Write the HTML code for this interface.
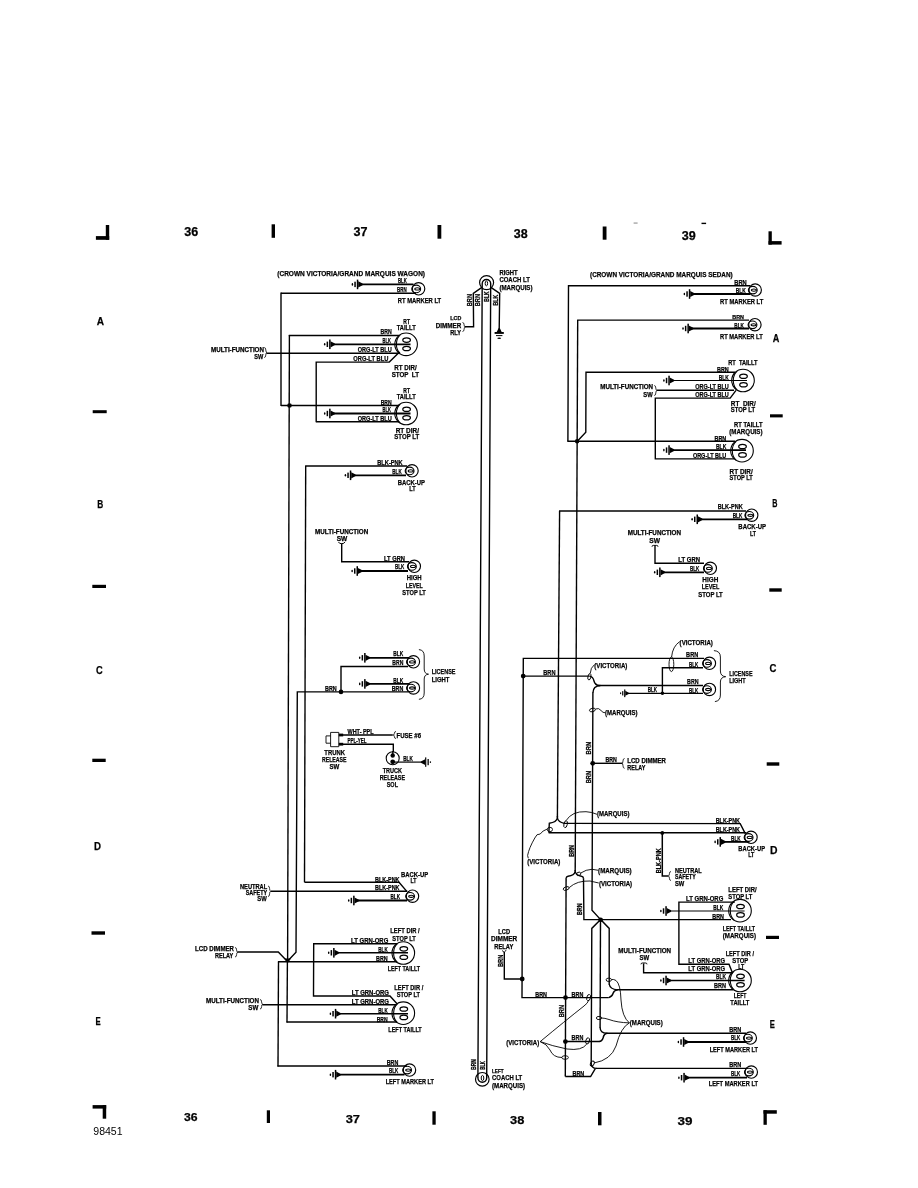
<!DOCTYPE html>
<html><head><meta charset="utf-8"><title>Wiring diagram 98451</title>
<style>
html,body{margin:0;padding:0;background:#fff}
body{width:918px;height:1188px;overflow:hidden}
svg{display:block;will-change:transform;opacity:0.9999}
svg line,svg path,svg circle,svg ellipse{stroke:#000;fill:none;stroke-linecap:butt}
svg .k{fill:#000;stroke:none}
svg text{font-family:"Liberation Sans",sans-serif;fill:#000;stroke:#000;stroke-width:0.25px}
svg .t{font-weight:bold}
svg .n{font-weight:bold}
svg .r{font-weight:normal;stroke:none}
</style></head><body>
<svg width="918" height="1188" viewBox="0 0 918 1188">
<rect x="95.9" y="236.1" width="13.3" height="3.7" class="k"/>
<rect x="105.8" y="225" width="3.4" height="14.8" class="k"/>
<rect x="768.5" y="231.3" width="3.3" height="13.3" class="k"/>
<rect x="768.5" y="241.1" width="13.1" height="3.5" class="k"/>
<rect x="92.6" y="1105.1" width="13.6" height="3.5" class="k"/>
<rect x="102.7" y="1105.1" width="3.5" height="13.6" class="k"/>
<rect x="763.5" y="1110.2" width="3.3" height="14.6" class="k"/>
<rect x="763.5" y="1110.2" width="13.3" height="3.5" class="k"/>
<rect x="271.6" y="224.3" width="3.4" height="13.5" class="k"/>
<rect x="437.5" y="225" width="3.8" height="13.7" class="k"/>
<rect x="602.7" y="226.5" width="3.8" height="13.2" class="k"/>
<rect x="266.8" y="1110.3" width="3.2" height="12.7" class="k"/>
<rect x="432.4" y="1111.3" width="3.3" height="13.4" class="k"/>
<rect x="598" y="1112" width="3.5" height="13.3" class="k"/>
<text lengthAdjust="spacingAndGlyphs" x="184.3" y="236" textLength="14" font-size="12" class="n">36</text>
<text lengthAdjust="spacingAndGlyphs" x="353.6" y="235.7" textLength="14" font-size="12" class="n">37</text>
<text lengthAdjust="spacingAndGlyphs" x="513.7" y="237.7" textLength="13.9" font-size="12" class="n">38</text>
<text lengthAdjust="spacingAndGlyphs" x="681.8" y="239.6" textLength="14" font-size="12" class="n">39</text>
<text lengthAdjust="spacingAndGlyphs" x="184" y="1121.3" textLength="13.6" font-size="11.3" class="n">36</text>
<text lengthAdjust="spacingAndGlyphs" x="345.7" y="1122.7" textLength="14.3" font-size="11.3" class="n">37</text>
<text lengthAdjust="spacingAndGlyphs" x="510" y="1123.7" textLength="14.3" font-size="11.3" class="n">38</text>
<text lengthAdjust="spacingAndGlyphs" x="677.5" y="1125.3" textLength="15" font-size="11.3" class="n">39</text>
<text lengthAdjust="spacingAndGlyphs" x="96.7" y="325.3" textLength="7.3" font-size="11" class="n">A</text>
<text lengthAdjust="spacingAndGlyphs" x="97.3" y="507.8" textLength="6" font-size="11" class="n">B</text>
<text lengthAdjust="spacingAndGlyphs" x="96" y="674" textLength="6.7" font-size="11" class="n">C</text>
<text lengthAdjust="spacingAndGlyphs" x="94" y="850.2" textLength="7" font-size="11" class="n">D</text>
<text lengthAdjust="spacingAndGlyphs" x="95.6" y="1024.9" textLength="5.2" font-size="11" class="n">E</text>
<text lengthAdjust="spacingAndGlyphs" x="772.7" y="341.7" textLength="6.6" font-size="11" class="n">A</text>
<text lengthAdjust="spacingAndGlyphs" x="772.3" y="506.8" textLength="5.2" font-size="11" class="n">B</text>
<text lengthAdjust="spacingAndGlyphs" x="769.6" y="672" textLength="6.9" font-size="11" class="n">C</text>
<text lengthAdjust="spacingAndGlyphs" x="770" y="854.2" textLength="7.5" font-size="11" class="n">D</text>
<text lengthAdjust="spacingAndGlyphs" x="769.7" y="1028.2" textLength="5.1" font-size="11" class="n">E</text>
<rect x="92.7" y="410.2" width="14" height="3" class="k"/>
<rect x="92.3" y="584.8" width="13.7" height="3.2" class="k"/>
<rect x="92.3" y="758.7" width="13.4" height="3.3" class="k"/>
<rect x="91.5" y="931.3" width="13.5" height="3.4" class="k"/>
<rect x="770" y="414.3" width="12.7" height="3.1" class="k"/>
<rect x="769.3" y="588.3" width="12.4" height="3.4" class="k"/>
<rect x="766.7" y="762.3" width="12.6" height="3.4" class="k"/>
<rect x="766" y="935.8" width="13" height="3.2" class="k"/>
<text lengthAdjust="spacingAndGlyphs" x="93.3" y="1135" textLength="29.3" font-size="10.5" class="r">98451</text>
<rect x="633.6" y="222.6" width="4" height="0.9" fill="#777"/>
<rect x="701.5" y="222.7" width="4.6" height="1.4" class="k"/>
<text lengthAdjust="spacingAndGlyphs" x="277.3" y="276.2" textLength="147.7" font-size="7" class="t">(CROWN VICTORIA/GRAND MARQUIS WAGON)</text>
<ellipse cx="352.4" cy="284.4" rx="0.75" ry="1.3" stroke-width="0" class="k"/>
<rect x="354.3" y="281.7" width="1.5" height="5.4" class="k"/>
<rect x="356.8" y="279.6" width="1.5" height="9.6" class="k"/>
<path d="M358.2 281.3 L362.6 283.6 L362.6 285.2 L358.2 287.5 Z" class="k"/>
<line x1="361" y1="284.4" x2="413.5" y2="284.4" stroke-width="1.8"/>
<line x1="281" y1="293.2" x2="416" y2="293.2" stroke-width="1.4"/>
<line x1="281" y1="292.6" x2="281" y2="406.1" stroke-width="1.4"/>
<circle cx="418.6" cy="288.8" r="6.2" stroke-width="1.15"/>
<ellipse cx="416.2" cy="288.9" rx="4.4" ry="3.8" stroke-width="1.15"/>
<ellipse cx="417.3" cy="288.9" rx="2.5" ry="1.1" stroke-width="1.1"/>
<text lengthAdjust="spacingAndGlyphs" x="398" y="283.3" textLength="8.8" font-size="6.8" class="t">BLK</text>
<text lengthAdjust="spacingAndGlyphs" x="397" y="292.1" textLength="9.6" font-size="6.8" class="t">BRN</text>
<text lengthAdjust="spacingAndGlyphs" x="397.7" y="302.6" textLength="43.5" font-size="7" class="t">RT MARKER LT</text>
<text lengthAdjust="spacingAndGlyphs" x="403.3" y="323.5" textLength="6.7" font-size="7" class="t">RT</text>
<text lengthAdjust="spacingAndGlyphs" x="396.7" y="329.6" textLength="19" font-size="7" class="t">TAILLT</text>
<text lengthAdjust="spacingAndGlyphs" x="380.5" y="334.2" textLength="11.2" font-size="6.8" class="t">BRN</text>
<line x1="288.8" y1="335.5" x2="399" y2="335.5" stroke-width="1.4"/>
<text lengthAdjust="spacingAndGlyphs" x="382.5" y="342.8" textLength="8.3" font-size="6.8" class="t">BLK</text>
<ellipse cx="324.7" cy="344.3" rx="0.75" ry="1.3" stroke-width="0" class="k"/>
<rect x="326.6" y="341.6" width="1.5" height="5.4" class="k"/>
<rect x="329.1" y="339.5" width="1.5" height="9.6" class="k"/>
<path d="M330.5 341.2 L334.9 343.5 L334.9 345.1 L330.5 347.4 Z" class="k"/>
<line x1="333.3" y1="344.3" x2="410.5" y2="344.3" stroke-width="1.8"/>
<text lengthAdjust="spacingAndGlyphs" x="357.7" y="351.8" textLength="34" font-size="6.8" class="t">ORG-LT BLU</text>
<line x1="266.5" y1="353.2" x2="399" y2="353.2" stroke-width="1.4"/>
<text lengthAdjust="spacingAndGlyphs" x="211" y="351.7" textLength="53" font-size="6.4" class="t">MULTI-FUNCTION</text>
<text lengthAdjust="spacingAndGlyphs" x="254.3" y="358.5" textLength="9" font-size="6.4" class="t">SW</text>
<path d="M264.2 347.5 Q265.8 347.5 265.8 350 Q265.8 352.5 267 352.5 Q265.8 352.5 265.8 355 Q265.8 357.5 264.2 357.5" stroke-width="0.8"/>
<text lengthAdjust="spacingAndGlyphs" x="353.3" y="360.8" textLength="35" font-size="6.8" class="t">ORG-LT BLU</text>
<path d="M316.2 422.3 L316.2 362.1 L389.3 362.1 L399.5 352" stroke-width="1.4"/>
<circle cx="406.1" cy="344.3" r="11.3" stroke-width="1.1"/>
<path d="M400.3 334.9 C395.1 339.3 395.1 349.3 400.3 353.7" stroke-width="1.1"/>
<ellipse cx="406.6" cy="340.1" rx="3.8" ry="2.2" stroke-width="1.25"/>
<ellipse cx="406.6" cy="348.5" rx="3.8" ry="2.2" stroke-width="1.25"/>
<text lengthAdjust="spacingAndGlyphs" x="394.3" y="370.2" textLength="22.4" font-size="7" class="t">RT DIR/</text>
<text lengthAdjust="spacingAndGlyphs" x="391.7" y="376.9" textLength="27.3" font-size="7" class="t">STOP  LT</text>
<text lengthAdjust="spacingAndGlyphs" x="403.3" y="393.4" textLength="6.7" font-size="7" class="t">RT</text>
<text lengthAdjust="spacingAndGlyphs" x="396.7" y="398.9" textLength="19" font-size="7" class="t">TAILLT</text>
<text lengthAdjust="spacingAndGlyphs" x="380.7" y="404.7" textLength="11" font-size="6.8" class="t">BRN</text>
<line x1="281" y1="405.5" x2="399" y2="405.5" stroke-width="1.4"/>
<circle cx="289.5" cy="405.5" r="2.3" class="k"/>
<text lengthAdjust="spacingAndGlyphs" x="382.5" y="412.4" textLength="8.3" font-size="6.8" class="t">BLK</text>
<ellipse cx="324.7" cy="413.5" rx="0.75" ry="1.3" stroke-width="0" class="k"/>
<rect x="326.6" y="410.8" width="1.5" height="5.4" class="k"/>
<rect x="329.1" y="408.7" width="1.5" height="9.6" class="k"/>
<path d="M330.5 410.4 L334.9 412.7 L334.9 414.3 L330.5 416.6 Z" class="k"/>
<line x1="333.3" y1="413.5" x2="410.5" y2="413.5" stroke-width="1.8"/>
<text lengthAdjust="spacingAndGlyphs" x="357.7" y="421" textLength="34" font-size="6.8" class="t">ORG-LT BLU</text>
<line x1="316.2" y1="421.7" x2="399" y2="421.7" stroke-width="1.4"/>
<circle cx="406.1" cy="413.5" r="11.3" stroke-width="1.1"/>
<path d="M400.3 404.1 C395.1 408.5 395.1 418.5 400.3 422.9" stroke-width="1.1"/>
<ellipse cx="406.6" cy="409.3" rx="3.8" ry="2.2" stroke-width="1.25"/>
<ellipse cx="406.6" cy="417.7" rx="3.8" ry="2.2" stroke-width="1.25"/>
<text lengthAdjust="spacingAndGlyphs" x="395.7" y="432.5" textLength="23.3" font-size="7" class="t">RT DIR/</text>
<text lengthAdjust="spacingAndGlyphs" x="394.3" y="439.2" textLength="25" font-size="7" class="t">STOP LT</text>
<line x1="289.4" y1="334.9" x2="287.6" y2="961" stroke-width="1.4"/>
<text lengthAdjust="spacingAndGlyphs" x="377.3" y="464.5" textLength="25.4" font-size="6.8" class="t">BLK-PNK</text>
<line x1="305.1" y1="466" x2="407" y2="466" stroke-width="1.4"/>
<line x1="305.7" y1="466" x2="304.5" y2="882.3" stroke-width="1.4"/>
<text lengthAdjust="spacingAndGlyphs" x="392.3" y="473.6" textLength="9.4" font-size="6.8" class="t">BLK</text>
<ellipse cx="345.4" cy="475.3" rx="0.75" ry="1.3" stroke-width="0" class="k"/>
<rect x="347.3" y="472.6" width="1.5" height="5.4" class="k"/>
<rect x="349.8" y="470.5" width="1.5" height="9.6" class="k"/>
<path d="M351.2 472.2 L355.6 474.5 L355.6 476.1 L351.2 478.4 Z" class="k"/>
<line x1="354" y1="475.3" x2="406" y2="475.3" stroke-width="1.8"/>
<circle cx="412" cy="470.8" r="6.2" stroke-width="1.15"/>
<ellipse cx="409.6" cy="470.9" rx="4.4" ry="3.8" stroke-width="1.15"/>
<ellipse cx="410.7" cy="470.9" rx="2.5" ry="1.1" stroke-width="1.1"/>
<text lengthAdjust="spacingAndGlyphs" x="397.7" y="484.6" textLength="27.3" font-size="7" class="t">BACK-UP</text>
<text lengthAdjust="spacingAndGlyphs" x="409.3" y="490.8" textLength="6.4" font-size="7" class="t">LT</text>
<text lengthAdjust="spacingAndGlyphs" x="315" y="534.2" textLength="53.3" font-size="6.4" class="t">MULTI-FUNCTION</text>
<text lengthAdjust="spacingAndGlyphs" x="336.7" y="540.9" textLength="10.6" font-size="6.4" class="t">SW</text>
<path d="M338.5 542 Q339.1 543.7 341.7 543.7 Q344.3 543.7 344.9 542" stroke-width="1"/>
<path d="M341.7 543.6 L341.7 561.7 L409 561.7" stroke-width="1.4"/>
<text lengthAdjust="spacingAndGlyphs" x="384" y="560.8" textLength="21" font-size="6.8" class="t">LT GRN</text>
<text lengthAdjust="spacingAndGlyphs" x="395" y="569.4" textLength="9.3" font-size="6.8" class="t">BLK</text>
<ellipse cx="352.1" cy="571" rx="0.75" ry="1.3" stroke-width="0" class="k"/>
<rect x="354" y="568.3" width="1.5" height="5.4" class="k"/>
<rect x="356.5" y="566.2" width="1.5" height="9.6" class="k"/>
<path d="M357.9 567.9 L362.3 570.2 L362.3 571.8 L357.9 574.1 Z" class="k"/>
<line x1="360.7" y1="571" x2="408" y2="571" stroke-width="1.8"/>
<circle cx="414.3" cy="566.3" r="6.2" stroke-width="1.15"/>
<ellipse cx="411.9" cy="566.4" rx="4.4" ry="3.8" stroke-width="1.15"/>
<ellipse cx="413" cy="566.4" rx="2.5" ry="1.1" stroke-width="1.1"/>
<text lengthAdjust="spacingAndGlyphs" x="406.7" y="580.2" textLength="15" font-size="7" class="t">HIGH</text>
<text lengthAdjust="spacingAndGlyphs" x="405.7" y="587.5" textLength="17" font-size="7" class="t">LEVEL</text>
<text lengthAdjust="spacingAndGlyphs" x="402.3" y="594.8" textLength="23.4" font-size="7" class="t">STOP LT</text>
<circle cx="413.4" cy="661.8" r="6.2" stroke-width="1.15"/>
<ellipse cx="411" cy="661.9" rx="4.4" ry="3.8" stroke-width="1.15"/>
<ellipse cx="412.1" cy="661.9" rx="2.5" ry="1.1" stroke-width="1.1"/>
<circle cx="413.4" cy="687.9" r="6.2" stroke-width="1.15"/>
<ellipse cx="411" cy="688" rx="4.4" ry="3.8" stroke-width="1.15"/>
<ellipse cx="412.1" cy="688" rx="2.5" ry="1.1" stroke-width="1.1"/>
<ellipse cx="359.7" cy="657.8" rx="0.75" ry="1.3" stroke-width="0" class="k"/>
<rect x="361.6" y="655.1" width="1.5" height="5.4" class="k"/>
<rect x="364.1" y="653" width="1.5" height="9.6" class="k"/>
<path d="M365.5 654.7 L369.9 657 L369.9 658.6 L365.5 660.9 Z" class="k"/>
<line x1="368.3" y1="657.8" x2="409" y2="657.8" stroke-width="1.8"/>
<text lengthAdjust="spacingAndGlyphs" x="393.3" y="656.2" textLength="10" font-size="6.8" class="t">BLK</text>
<text lengthAdjust="spacingAndGlyphs" x="392.3" y="665.2" textLength="11" font-size="6.8" class="t">BRN</text>
<path d="M408 666.5 L341 666.5 L341 691.9" stroke-width="1.4"/>
<circle cx="341" cy="691.9" r="2.3" class="k"/>
<ellipse cx="359.7" cy="683.9" rx="0.75" ry="1.3" stroke-width="0" class="k"/>
<rect x="361.6" y="681.2" width="1.5" height="5.4" class="k"/>
<rect x="364.1" y="679.1" width="1.5" height="9.6" class="k"/>
<path d="M365.5 680.8 L369.9 683.1 L369.9 684.7 L365.5 687 Z" class="k"/>
<line x1="368.3" y1="683.9" x2="409" y2="683.9" stroke-width="1.8"/>
<text lengthAdjust="spacingAndGlyphs" x="393.3" y="683.2" textLength="10" font-size="6.8" class="t">BLK</text>
<text lengthAdjust="spacingAndGlyphs" x="391.7" y="691.3" textLength="11.6" font-size="6.8" class="t">BRN</text>
<text lengthAdjust="spacingAndGlyphs" x="325" y="691" textLength="11.7" font-size="6.8" class="t">BRN</text>
<path d="M408 691.9 L297.3 691.9 L296 952.3 L288.2 960.5" stroke-width="1.4"/>
<path d="M418.9 649.6 Q424.2 650 424.2 656 L424.2 669 Q424.2 673.8 428.5 674.2 Q424.2 674.6 424.2 679 L424.2 693 Q424.2 699 418.9 699.3" stroke-width="0.9"/>
<text lengthAdjust="spacingAndGlyphs" x="431.7" y="674.1" textLength="23.8" font-size="7" class="t">LICENSE</text>
<text lengthAdjust="spacingAndGlyphs" x="431.7" y="681.6" textLength="17.7" font-size="7" class="t">LIGHT</text>
<path d="M330.6 735.9 L326 735.9 L326 743.2 L330.6 743.2" stroke-width="0.9"/>
<path d="M330.6 732.4 L338.8 732.4 L338.8 746.7 L330.6 746.7 Z" stroke-width="0.9"/>
<rect x="338.8" y="733.6" width="4.4" height="2.8" class="k"/>
<rect x="338.8" y="742.8" width="4.4" height="2.8" class="k"/>
<line x1="343" y1="735" x2="392.8" y2="735" stroke-width="1.4"/>
<path d="M396 731.5 Q394.4 731.5 394.4 733.25 Q394.4 735 393.2 735 Q394.4 735 394.4 736.75 Q394.4 738.5 396 738.5" stroke-width="0.8"/>
<text lengthAdjust="spacingAndGlyphs" x="396.6" y="738.2" textLength="24.4" font-size="7" class="t">FUSE #6</text>
<path d="M343 744.2 L393.3 744.2 L393.3 752" stroke-width="1.4"/>
<circle cx="392.7" cy="758.3" r="6.5" stroke-width="1.1"/>
<circle cx="392.7" cy="755.5" r="2.2" class="k"/>
<circle cx="392.7" cy="761.8" r="2.4" class="k"/>
<line x1="392.8" y1="751" x2="392.8" y2="756" stroke-width="1.4"/>
<line x1="392.8" y1="762.1" x2="421.5" y2="762.1" stroke-width="1.2"/>
<path d="M420.8 761.5 L425.2 759.2 L425.2 765 L420.8 762.7 Z" class="k"/>
<rect x="425.1" y="757.4" width="1.2" height="9.4" class="k"/>
<rect x="427.5" y="759" width="1.3" height="6.2" class="k"/>
<ellipse cx="430.4" cy="762.1" rx="0.7" ry="0.9" stroke-width="0" class="k"/>
<text lengthAdjust="spacingAndGlyphs" x="403.2" y="760.8" textLength="9.6" font-size="6.8" class="t">BLK</text>
<text lengthAdjust="spacingAndGlyphs" x="347.5" y="733.9" textLength="26.1" font-size="6.8" class="t">WHT- PPL</text>
<text lengthAdjust="spacingAndGlyphs" x="347.5" y="742.9" textLength="19.1" font-size="6.8" class="t">PPL-YEL</text>
<text lengthAdjust="spacingAndGlyphs" x="324.3" y="754.8" textLength="20.6" font-size="7" class="t">TRUNK</text>
<text lengthAdjust="spacingAndGlyphs" x="321.9" y="762.1" textLength="24.7" font-size="7" class="t">RELEASE</text>
<text lengthAdjust="spacingAndGlyphs" x="329.5" y="769.4" textLength="9.8" font-size="6.4" class="t">SW</text>
<text lengthAdjust="spacingAndGlyphs" x="382.7" y="772.6" textLength="19.3" font-size="7" class="t">TRUCK</text>
<text lengthAdjust="spacingAndGlyphs" x="379.7" y="779.9" textLength="25.3" font-size="7" class="t">RELEASE</text>
<text lengthAdjust="spacingAndGlyphs" x="386.7" y="787.4" textLength="11.3" font-size="7" class="t">SOL</text>
<text lengthAdjust="spacingAndGlyphs" x="401" y="877.3" textLength="27.3" font-size="7" class="t">BACK-UP</text>
<text lengthAdjust="spacingAndGlyphs" x="410.5" y="883.4" textLength="6" font-size="7" class="t">LT</text>
<text lengthAdjust="spacingAndGlyphs" x="375" y="881.6" textLength="24.5" font-size="6.8" class="t">BLK-PNK</text>
<path d="M304.5 882.3 L399 882.3 L406.8 891.4" stroke-width="1.4"/>
<text lengthAdjust="spacingAndGlyphs" x="375" y="889.8" textLength="24.5" font-size="6.8" class="t">BLK-PNK</text>
<line x1="271" y1="891.2" x2="407.3" y2="891.2" stroke-width="1.4"/>
<text lengthAdjust="spacingAndGlyphs" x="240" y="888.8" textLength="27.2" font-size="6.4" class="t">NEUTRAL</text>
<text lengthAdjust="spacingAndGlyphs" x="245.7" y="894.9" textLength="21.5" font-size="6.4" class="t">SAFETY</text>
<text lengthAdjust="spacingAndGlyphs" x="257.3" y="901.2" textLength="9.4" font-size="6.4" class="t">SW</text>
<path d="M268 886 Q269.6 886 269.6 888.62 Q269.6 891.25 270.8 891.25 Q269.6 891.25 269.6 893.88 Q269.6 896.5 268 896.5" stroke-width="0.8"/>
<text lengthAdjust="spacingAndGlyphs" x="390.5" y="898.6" textLength="9.5" font-size="6.8" class="t">BLK</text>
<ellipse cx="348.7" cy="900.5" rx="0.75" ry="1.3" stroke-width="0" class="k"/>
<rect x="350.6" y="897.8" width="1.5" height="5.4" class="k"/>
<rect x="353.1" y="895.7" width="1.5" height="9.6" class="k"/>
<path d="M354.5 897.4 L358.9 899.7 L358.9 901.3 L354.5 903.6 Z" class="k"/>
<line x1="357.3" y1="900.5" x2="407" y2="900.5" stroke-width="1.8"/>
<circle cx="412.5" cy="896.2" r="6.2" stroke-width="1.15"/>
<ellipse cx="410.1" cy="896.3" rx="4.4" ry="3.8" stroke-width="1.15"/>
<ellipse cx="411.2" cy="896.3" rx="2.5" ry="1.1" stroke-width="1.1"/>
<text lengthAdjust="spacingAndGlyphs" x="390.3" y="933.2" textLength="29.4" font-size="7" class="t">LEFT DIR /</text>
<text lengthAdjust="spacingAndGlyphs" x="392.3" y="940.5" textLength="23.4" font-size="7" class="t">STOP LT</text>
<text lengthAdjust="spacingAndGlyphs" x="351" y="943.2" textLength="37.3" font-size="6.8" class="t">LT GRN-ORG</text>
<path d="M397 943.8 L313.7 943.8 L313.5 996 L390 996 L397 1003.7" stroke-width="1.4"/>
<text lengthAdjust="spacingAndGlyphs" x="378.3" y="951.8" textLength="9.4" font-size="6.8" class="t">BLK</text>
<ellipse cx="328.7" cy="952.8" rx="0.75" ry="1.3" stroke-width="0" class="k"/>
<rect x="330.6" y="950.1" width="1.5" height="5.4" class="k"/>
<rect x="333.1" y="948" width="1.5" height="9.6" class="k"/>
<path d="M334.5 949.7 L338.9 952 L338.9 953.6 L334.5 955.9 Z" class="k"/>
<line x1="337.3" y1="952.8" x2="408" y2="952.8" stroke-width="1.4"/>
<text lengthAdjust="spacingAndGlyphs" x="376" y="961" textLength="11.7" font-size="6.8" class="t">BRN</text>
<line x1="277.9" y1="961.8" x2="397" y2="961.8" stroke-width="1.4"/>
<circle cx="403.3" cy="953" r="11.3" stroke-width="1.1"/>
<path d="M397.5 943.6 C392.3 948 392.3 958 397.5 962.4" stroke-width="1.1"/>
<ellipse cx="403.8" cy="948.8" rx="3.8" ry="2.2" stroke-width="1.25"/>
<ellipse cx="403.8" cy="957.2" rx="3.8" ry="2.2" stroke-width="1.25"/>
<text lengthAdjust="spacingAndGlyphs" x="387.7" y="971.3" textLength="32.3" font-size="7" class="t">LEFT TAILLT</text>
<text lengthAdjust="spacingAndGlyphs" x="195" y="950.6" textLength="39" font-size="6.4" class="t">LCD DIMMER</text>
<text lengthAdjust="spacingAndGlyphs" x="215" y="957.9" textLength="18.3" font-size="6.4" class="t">RELAY</text>
<path d="M235 947.5 Q236.6 947.5 236.6 949.88 Q236.6 952.25 237.8 952.25 Q236.6 952.25 236.6 954.62 Q236.6 957 235 957" stroke-width="0.8"/>
<path d="M237.5 952 L278.3 952 L286.5 960.6" stroke-width="1.4"/>
<path d="M284.3 958.6 L287.6 963.2 L291 958.6 Z" class="k"/>
<line x1="278.5" y1="961.8" x2="278" y2="1066.6" stroke-width="1.4"/>
<line x1="287.4" y1="961" x2="287" y2="1022.6" stroke-width="1.4"/>
<text lengthAdjust="spacingAndGlyphs" x="394.3" y="990.2" textLength="29" font-size="7" class="t">LEFT DIR /</text>
<text lengthAdjust="spacingAndGlyphs" x="396.7" y="997" textLength="23.3" font-size="7" class="t">STOP LT</text>
<text lengthAdjust="spacingAndGlyphs" x="351.7" y="995.1" textLength="37.3" font-size="6.8" class="t">LT GRN-ORG</text>
<text lengthAdjust="spacingAndGlyphs" x="351.7" y="1004.1" textLength="37.3" font-size="6.8" class="t">LT GRN-ORG</text>
<line x1="262.5" y1="1004.7" x2="396" y2="1004.7" stroke-width="1.4"/>
<text lengthAdjust="spacingAndGlyphs" x="206" y="1003.3" textLength="53" font-size="6.4" class="t">MULTI-FUNCTION</text>
<text lengthAdjust="spacingAndGlyphs" x="248.3" y="1010.3" textLength="10" font-size="6.4" class="t">SW</text>
<path d="M260 999.5 Q261.6 999.5 261.6 1001.88 Q261.6 1004.25 262.8 1004.25 Q261.6 1004.25 261.6 1006.62 Q261.6 1009 260 1009" stroke-width="0.8"/>
<text lengthAdjust="spacingAndGlyphs" x="378.3" y="1013.1" textLength="9.4" font-size="6.8" class="t">BLK</text>
<ellipse cx="330.4" cy="1013.7" rx="0.75" ry="1.3" stroke-width="0" class="k"/>
<rect x="332.3" y="1011" width="1.5" height="5.4" class="k"/>
<rect x="334.8" y="1008.9" width="1.5" height="9.6" class="k"/>
<path d="M336.2 1010.6 L340.6 1012.9 L340.6 1014.5 L336.2 1016.8 Z" class="k"/>
<line x1="339" y1="1013.7" x2="408" y2="1013.7" stroke-width="1.4"/>
<text lengthAdjust="spacingAndGlyphs" x="376.7" y="1021.5" textLength="11" font-size="6.8" class="t">BRN</text>
<line x1="286.5" y1="1022" x2="397" y2="1022" stroke-width="1.4"/>
<circle cx="403.3" cy="1013.2" r="11.3" stroke-width="1.1"/>
<path d="M397.5 1003.8 C392.3 1008.2 392.3 1018.2 397.5 1022.6" stroke-width="1.1"/>
<ellipse cx="403.8" cy="1009" rx="3.8" ry="2.2" stroke-width="1.25"/>
<ellipse cx="403.8" cy="1017.4" rx="3.8" ry="2.2" stroke-width="1.25"/>
<text lengthAdjust="spacingAndGlyphs" x="388.3" y="1032.4" textLength="33.4" font-size="7" class="t">LEFT TAILLT</text>
<text lengthAdjust="spacingAndGlyphs" x="386.7" y="1065.4" textLength="11.6" font-size="6.8" class="t">BRN</text>
<line x1="277.4" y1="1066" x2="407" y2="1066" stroke-width="1.4"/>
<circle cx="409.5" cy="1070" r="6.2" stroke-width="1.15"/>
<ellipse cx="407.1" cy="1070.1" rx="4.4" ry="3.8" stroke-width="1.15"/>
<ellipse cx="408.2" cy="1070.1" rx="2.5" ry="1.1" stroke-width="1.1"/>
<text lengthAdjust="spacingAndGlyphs" x="389" y="1073.3" textLength="9.3" font-size="6.8" class="t">BLK</text>
<ellipse cx="330.4" cy="1074.7" rx="0.75" ry="1.3" stroke-width="0" class="k"/>
<rect x="332.3" y="1072" width="1.5" height="5.4" class="k"/>
<rect x="334.8" y="1069.9" width="1.5" height="9.6" class="k"/>
<path d="M336.2 1071.6 L340.6 1073.9 L340.6 1075.5 L336.2 1077.8 Z" class="k"/>
<line x1="339" y1="1074.7" x2="404.5" y2="1074.7" stroke-width="1.8"/>
<text lengthAdjust="spacingAndGlyphs" x="385.7" y="1084.4" textLength="48.3" font-size="7" class="t">LEFT MARKER LT</text>
<circle cx="486.6" cy="282.6" r="7" stroke-width="1.2"/>
<ellipse cx="486.4" cy="283.4" rx="1.2" ry="2.4" stroke-width="1"/>
<path d="M477.9 1078 L482.2 283.8 A4.25 4.25 0 0 1 490.7 283.8 L486.7 1078" stroke-width="1.4"/>
<path d="M477.9 1077.8 A4.4 4.4 0 0 0 486.7 1077.8" stroke-width="1.4"/>
<path d="M481.9 287.4 L473.3 293.4 L473.6 326.8 L465 326.8" stroke-width="1.4"/>
<path d="M462.5 322.5 Q464.1 322.5 464.1 324.75 Q464.1 327 465.3 327 Q464.1 327 464.1 329.25 Q464.1 331.5 462.5 331.5" stroke-width="0.8"/>
<path d="M490.9 287.4 L499.7 293.4 L499.2 329" stroke-width="1.4"/>
<path d="M498.5 328.3 L496.6 332.2 L501.8 332.2 L499.9 328.3 Z" class="k"/>
<rect x="494.6" y="332" width="9.2" height="1.9" class="k"/>
<rect x="496" y="335.1" width="6.4" height="1" class="k"/>
<ellipse cx="499.2" cy="338.3" rx="1.9" ry="0.7" stroke-width="0" class="k"/>
<text lengthAdjust="spacingAndGlyphs" x="0" y="0" textLength="12.2" font-size="6.8" class="t" transform="translate(472 306.2) rotate(-90)">BRN</text>
<text lengthAdjust="spacingAndGlyphs" x="0" y="0" textLength="12.2" font-size="6.8" class="t" transform="translate(480.4 306.2) rotate(-90)">BRN</text>
<text lengthAdjust="spacingAndGlyphs" x="0" y="0" textLength="10.2" font-size="6.8" class="t" transform="translate(488.8 301.7) rotate(-90)">BLK</text>
<text lengthAdjust="spacingAndGlyphs" x="0" y="0" textLength="10.7" font-size="6.8" class="t" transform="translate(498 305.5) rotate(-90)">BLK</text>
<text lengthAdjust="spacingAndGlyphs" x="499.4" y="275" textLength="18.3" font-size="7" class="t">RIGHT</text>
<text lengthAdjust="spacingAndGlyphs" x="499.4" y="282.3" textLength="30.5" font-size="7" class="t">COACH LT</text>
<text lengthAdjust="spacingAndGlyphs" x="499.4" y="289.6" textLength="33.1" font-size="7" class="t">(MARQUIS)</text>
<text lengthAdjust="spacingAndGlyphs" x="450.3" y="320.2" textLength="11" font-size="5.4" class="t">LCD</text>
<text lengthAdjust="spacingAndGlyphs" x="435.8" y="327.7" textLength="25.5" font-size="6.4" class="t">DIMMER</text>
<text lengthAdjust="spacingAndGlyphs" x="450.3" y="335" textLength="10.7" font-size="6.4" class="t">RLY</text>
<circle cx="482.3" cy="1079.3" r="6.8" stroke-width="1.2"/>
<ellipse cx="482.5" cy="1078" rx="1.3" ry="2.6" stroke-width="1"/>
<text lengthAdjust="spacingAndGlyphs" x="0" y="0" textLength="10.6" font-size="6.8" class="t" transform="translate(476.2 1069.8) rotate(-90)">BRN</text>
<text lengthAdjust="spacingAndGlyphs" x="0" y="0" textLength="8.7" font-size="6.8" class="t" transform="translate(485.2 1069.8) rotate(-90)">BLK</text>
<text lengthAdjust="spacingAndGlyphs" x="492" y="1072.7" textLength="11.5" font-size="5.6" class="t">LEFT</text>
<text lengthAdjust="spacingAndGlyphs" x="492" y="1080.3" textLength="30.2" font-size="7" class="t">COACH LT</text>
<text lengthAdjust="spacingAndGlyphs" x="492" y="1087.7" textLength="33.1" font-size="7" class="t">(MARQUIS)</text>
<text lengthAdjust="spacingAndGlyphs" x="590" y="276.5" textLength="142.7" font-size="7" class="t">(CROWN VICTORIA/GRAND MARQUIS SEDAN)</text>
<path d="M750 285.7 L568.5 285.7 L567.9 441.2" stroke-width="1.4"/>
<text lengthAdjust="spacingAndGlyphs" x="734.3" y="284.7" textLength="12.4" font-size="6.8" class="t">BRN</text>
<circle cx="755.2" cy="290" r="6.2" stroke-width="1.15"/>
<ellipse cx="752.8" cy="290.1" rx="4.4" ry="3.8" stroke-width="1.15"/>
<ellipse cx="753.9" cy="290.1" rx="2.5" ry="1.1" stroke-width="1.1"/>
<text lengthAdjust="spacingAndGlyphs" x="735.7" y="292.8" textLength="10" font-size="6.8" class="t">BLK</text>
<ellipse cx="684.4" cy="294" rx="0.75" ry="1.3" stroke-width="0" class="k"/>
<rect x="686.3" y="291.3" width="1.5" height="5.4" class="k"/>
<rect x="688.8" y="289.2" width="1.5" height="9.6" class="k"/>
<path d="M690.2 290.9 L694.6 293.2 L694.6 294.8 L690.2 297.1 Z" class="k"/>
<line x1="693" y1="294" x2="750" y2="294" stroke-width="1.8"/>
<text lengthAdjust="spacingAndGlyphs" x="720" y="304" textLength="43.3" font-size="7" class="t">RT MARKER LT</text>
<line x1="577.1" y1="320.1" x2="749" y2="320.1" stroke-width="1.4"/>
<text lengthAdjust="spacingAndGlyphs" x="732.3" y="318.6" textLength="11.7" font-size="6.2" class="t">BRN</text>
<circle cx="754.9" cy="324.7" r="6.2" stroke-width="1.15"/>
<ellipse cx="752.5" cy="324.8" rx="4.4" ry="3.8" stroke-width="1.15"/>
<ellipse cx="753.6" cy="324.8" rx="2.5" ry="1.1" stroke-width="1.1"/>
<text lengthAdjust="spacingAndGlyphs" x="734.3" y="327.7" textLength="9.7" font-size="6.8" class="t">BLK</text>
<ellipse cx="683" cy="328.5" rx="0.75" ry="1.3" stroke-width="0" class="k"/>
<rect x="684.9" y="325.8" width="1.5" height="5.4" class="k"/>
<rect x="687.4" y="323.7" width="1.5" height="9.6" class="k"/>
<path d="M688.8 325.4 L693.2 327.7 L693.2 329.3 L688.8 331.6 Z" class="k"/>
<line x1="691.6" y1="328.5" x2="749" y2="328.5" stroke-width="1.8"/>
<text lengthAdjust="spacingAndGlyphs" x="720" y="338.7" textLength="42.7" font-size="7" class="t">RT MARKER LT</text>
<line x1="577.7" y1="320.1" x2="575.2" y2="871.5" stroke-width="1.4"/>
<text lengthAdjust="spacingAndGlyphs" x="728.2" y="365" textLength="29.4" font-size="7" class="t">RT  TAILLT</text>
<path d="M735 372.3 L586 372.3 L585.8 432.2 L577.3 441.2" stroke-width="1.4"/>
<text lengthAdjust="spacingAndGlyphs" x="717" y="371.6" textLength="11.8" font-size="6.8" class="t">BRN</text>
<text lengthAdjust="spacingAndGlyphs" x="718.8" y="379.8" textLength="10" font-size="6.8" class="t">BLK</text>
<ellipse cx="663.9" cy="380.5" rx="0.75" ry="1.3" stroke-width="0" class="k"/>
<rect x="665.8" y="377.8" width="1.5" height="5.4" class="k"/>
<rect x="668.3" y="375.7" width="1.5" height="9.6" class="k"/>
<path d="M669.7 377.4 L674.1 379.7 L674.1 381.3 L669.7 383.6 Z" class="k"/>
<line x1="672.5" y1="380.5" x2="747" y2="380.5" stroke-width="1.2"/>
<text lengthAdjust="spacingAndGlyphs" x="695.3" y="389.2" textLength="33.5" font-size="6.8" class="t">ORG-LT BLU</text>
<line x1="657" y1="390.3" x2="734" y2="390.3" stroke-width="1.4"/>
<text lengthAdjust="spacingAndGlyphs" x="600.2" y="389.3" textLength="52.9" font-size="6.4" class="t">MULTI-FUNCTION</text>
<text lengthAdjust="spacingAndGlyphs" x="643.3" y="396.6" textLength="9.4" font-size="6.4" class="t">SW</text>
<path d="M654.2 385.5 Q655.8 385.5 655.8 388 Q655.8 390.5 657 390.5 Q655.8 390.5 655.8 393 Q655.8 395.5 654.2 395.5" stroke-width="0.8"/>
<text lengthAdjust="spacingAndGlyphs" x="695.3" y="397.4" textLength="33.5" font-size="6.8" class="t">ORG-LT BLU</text>
<path d="M734 458.9 L655.3 458.9 L655.3 398.1 L730.2 398.1 L736 390.3" stroke-width="1.4"/>
<circle cx="743" cy="380.5" r="11.3" stroke-width="1.1"/>
<path d="M737.2 371.1 C732 375.5 732 385.5 737.2 389.9" stroke-width="1.1"/>
<ellipse cx="743.5" cy="376.3" rx="3.8" ry="2.2" stroke-width="1.25"/>
<ellipse cx="743.5" cy="384.7" rx="3.8" ry="2.2" stroke-width="1.25"/>
<text lengthAdjust="spacingAndGlyphs" x="730.8" y="406" textLength="24.9" font-size="7" class="t">RT  DIR/</text>
<text lengthAdjust="spacingAndGlyphs" x="730.8" y="412.3" textLength="24.3" font-size="7" class="t">STOP LT</text>
<text lengthAdjust="spacingAndGlyphs" x="734.1" y="426.8" textLength="28.4" font-size="7" class="t">RT TAILLT</text>
<text lengthAdjust="spacingAndGlyphs" x="729.2" y="433.7" textLength="33.3" font-size="7" class="t">(MARQUIS)</text>
<text lengthAdjust="spacingAndGlyphs" x="714.5" y="440.7" textLength="11.8" font-size="6.8" class="t">BRN</text>
<line x1="567.3" y1="441.2" x2="735" y2="441.2" stroke-width="1.4"/>
<circle cx="577.1" cy="441.3" r="2.2" class="k"/>
<text lengthAdjust="spacingAndGlyphs" x="715.9" y="449" textLength="10.4" font-size="6.8" class="t">BLK</text>
<ellipse cx="663.9" cy="450.1" rx="0.75" ry="1.3" stroke-width="0" class="k"/>
<rect x="665.8" y="447.4" width="1.5" height="5.4" class="k"/>
<rect x="668.3" y="445.3" width="1.5" height="9.6" class="k"/>
<path d="M669.7 447 L674.1 449.3 L674.1 450.9 L669.7 453.2 Z" class="k"/>
<line x1="672.5" y1="450.1" x2="746" y2="450.1" stroke-width="1.6"/>
<text lengthAdjust="spacingAndGlyphs" x="692.9" y="458.4" textLength="33.4" font-size="6.8" class="t">ORG-LT BLU</text>
<circle cx="742" cy="450.7" r="11.3" stroke-width="1.1"/>
<path d="M736.2 441.3 C731 445.7 731 455.7 736.2 460.1" stroke-width="1.1"/>
<ellipse cx="742.5" cy="446.5" rx="3.8" ry="2.2" stroke-width="1.25"/>
<ellipse cx="742.5" cy="454.9" rx="3.8" ry="2.2" stroke-width="1.25"/>
<text lengthAdjust="spacingAndGlyphs" x="729.6" y="473.5" textLength="23.1" font-size="7" class="t">RT DIR/</text>
<text lengthAdjust="spacingAndGlyphs" x="729.6" y="480.3" textLength="23.1" font-size="7" class="t">STOP LT</text>
<text lengthAdjust="spacingAndGlyphs" x="717.7" y="509.3" textLength="25" font-size="6.8" class="t">BLK-PNK</text>
<line x1="559" y1="511" x2="746" y2="511" stroke-width="1.4"/>
<line x1="559.6" y1="511" x2="557.4" y2="817.8" stroke-width="1.4"/>
<circle cx="751.7" cy="515.2" r="6.2" stroke-width="1.15"/>
<ellipse cx="749.3" cy="515.3" rx="4.4" ry="3.8" stroke-width="1.15"/>
<ellipse cx="750.4" cy="515.3" rx="2.5" ry="1.1" stroke-width="1.1"/>
<text lengthAdjust="spacingAndGlyphs" x="732.7" y="517.7" textLength="9.6" font-size="6.8" class="t">BLK</text>
<ellipse cx="692.1" cy="519.3" rx="0.75" ry="1.3" stroke-width="0" class="k"/>
<rect x="694" y="516.6" width="1.5" height="5.4" class="k"/>
<rect x="696.5" y="514.5" width="1.5" height="9.6" class="k"/>
<path d="M697.9 516.2 L702.3 518.5 L702.3 520.1 L697.9 522.4 Z" class="k"/>
<line x1="700.7" y1="519.3" x2="747" y2="519.3" stroke-width="1.8"/>
<text lengthAdjust="spacingAndGlyphs" x="738.3" y="529.3" textLength="27.7" font-size="7" class="t">BACK-UP</text>
<text lengthAdjust="spacingAndGlyphs" x="750" y="535.8" textLength="6" font-size="7" class="t">LT</text>
<text lengthAdjust="spacingAndGlyphs" x="627.7" y="535.3" textLength="53.3" font-size="6.4" class="t">MULTI-FUNCTION</text>
<text lengthAdjust="spacingAndGlyphs" x="649.3" y="542.8" textLength="10.7" font-size="6.4" class="t">SW</text>
<path d="M652 546.7 Q652 545.4 653.4 545.4 L656.6 545.4 Q658 545.4 658 546.7" stroke-width="1"/>
<path d="M655 546 L655 563.3 L704 563.3" stroke-width="1.4"/>
<text lengthAdjust="spacingAndGlyphs" x="678.3" y="562.3" textLength="21.7" font-size="6.8" class="t">LT GRN</text>
<circle cx="710.3" cy="568.3" r="6.2" stroke-width="1.15"/>
<ellipse cx="707.9" cy="568.4" rx="4.4" ry="3.8" stroke-width="1.15"/>
<ellipse cx="709" cy="568.4" rx="2.5" ry="1.1" stroke-width="1.1"/>
<text lengthAdjust="spacingAndGlyphs" x="690" y="570.8" textLength="9.3" font-size="6.8" class="t">BLK</text>
<ellipse cx="654.7" cy="572.3" rx="0.75" ry="1.3" stroke-width="0" class="k"/>
<rect x="656.6" y="569.6" width="1.5" height="5.4" class="k"/>
<rect x="659.1" y="567.5" width="1.5" height="9.6" class="k"/>
<path d="M660.5 569.2 L664.9 571.5 L664.9 573.1 L660.5 575.4 Z" class="k"/>
<line x1="663.3" y1="572.3" x2="704" y2="572.3" stroke-width="1.8"/>
<text lengthAdjust="spacingAndGlyphs" x="702.3" y="581.8" textLength="16" font-size="7" class="t">HIGH</text>
<text lengthAdjust="spacingAndGlyphs" x="701.7" y="589" textLength="17.6" font-size="7" class="t">LEVEL</text>
<text lengthAdjust="spacingAndGlyphs" x="698.3" y="596.5" textLength="24.4" font-size="7" class="t">STOP LT</text>
<path d="M704 658.4 L523.3 658.4 L522 997.6 L608.8 997.6" stroke-width="1.4"/>
<path d="M608.8 997.6 Q612.3 996.5 613 993.5 Q613.8 990.4 617.5 989.9" stroke-width="1.4"/>
<circle cx="523.2" cy="676.1" r="2.4" class="k"/>
<line x1="523.2" y1="676.1" x2="589.4" y2="676.1" stroke-width="1.4"/>
<path d="M589.4 676.1 Q593 676.5 594 681 Q595 685.3 599.5 685.5" stroke-width="1.4"/>
<line x1="598.5" y1="685.5" x2="703" y2="685.5" stroke-width="1.4"/>
<path d="M600.5 685.5 Q593 685.8 592.9 693" stroke-width="1.4"/>
<path d="M592.9 692.5 L592 910.2 L600.6 919.6" stroke-width="1.4"/>
<text lengthAdjust="spacingAndGlyphs" x="543.3" y="674.7" textLength="12.2" font-size="6.8" class="t">BRN</text>
<ellipse cx="589.4" cy="676.8" rx="1.5" ry="3.2" stroke-width="0.9" transform="rotate(12 589.4 676.8)"/>
<path d="M590.2 673.6 Q590.5 667.5 594.5 664.6" stroke-width="0.9"/>
<text lengthAdjust="spacingAndGlyphs" x="594.3" y="667.7" textLength="33" font-size="7" class="t">(VICTORIA)</text>
<text lengthAdjust="spacingAndGlyphs" x="686.1" y="657.4" textLength="12.1" font-size="6.8" class="t">BRN</text>
<circle cx="709.4" cy="663.3" r="6.2" stroke-width="1.15"/>
<ellipse cx="707" cy="663.4" rx="4.4" ry="3.8" stroke-width="1.15"/>
<ellipse cx="708.1" cy="663.4" rx="2.5" ry="1.1" stroke-width="1.1"/>
<text lengthAdjust="spacingAndGlyphs" x="689" y="666.8" textLength="9.2" font-size="6.8" class="t">BLK</text>
<path d="M703 667.8 L662.4 667.8 L662.4 693.3" stroke-width="1.4"/>
<circle cx="662.4" cy="693.3" r="1.8" class="k"/>
<text lengthAdjust="spacingAndGlyphs" x="687.1" y="684.4" textLength="11.5" font-size="6.8" class="t">BRN</text>
<circle cx="709.4" cy="689.4" r="6.2" stroke-width="1.15"/>
<ellipse cx="707" cy="689.5" rx="4.4" ry="3.8" stroke-width="1.15"/>
<ellipse cx="708.1" cy="689.5" rx="2.5" ry="1.1" stroke-width="1.1"/>
<text lengthAdjust="spacingAndGlyphs" x="689" y="692.6" textLength="9.2" font-size="6.8" class="t">BLK</text>
<ellipse cx="620.62" cy="693.3" rx="0.6" ry="1.04" stroke-width="0" class="k"/>
<rect x="622.14" y="691.14" width="1.2" height="4.32" class="k"/>
<rect x="624.14" y="689.46" width="1.2" height="7.68" class="k"/>
<path d="M625.26 690.82 L628.78 692.66 L628.78 693.94 L625.26 695.78 Z" class="k"/>
<line x1="627.5" y1="693.3" x2="703" y2="693.3" stroke-width="1.2"/>
<text lengthAdjust="spacingAndGlyphs" x="647.8" y="692.3" textLength="9.3" font-size="6.8" class="t">BLK</text>
<path d="M713.9 650.6 Q720.4 651 720.4 657 L720.4 671 Q720.4 676.3 725.7 676.7 Q720.4 677.1 720.4 682 L720.4 695 Q720.4 701 714.9 701.6" stroke-width="0.9"/>
<text lengthAdjust="spacingAndGlyphs" x="729.2" y="675.6" textLength="23.3" font-size="7" class="t">LICENSE</text>
<text lengthAdjust="spacingAndGlyphs" x="729.2" y="683.2" textLength="16.5" font-size="7" class="t">LIGHT</text>
<ellipse cx="671.4" cy="664.3" rx="2.4" ry="7.3" stroke-width="0.9"/>
<path d="M671.6 657 Q672.5 646.5 679.8 641.5" stroke-width="0.9"/>
<text lengthAdjust="spacingAndGlyphs" x="679.6" y="645" textLength="33.3" font-size="7" class="t">(VICTORIA)</text>
<ellipse cx="592.4" cy="710" rx="3" ry="1.7" stroke-width="0.9" transform="rotate(-15 592.4 710)"/>
<path d="M595.3 709 Q599 707.5 601 710.5 Q602.8 713 605.5 712.8" stroke-width="0.9"/>
<text lengthAdjust="spacingAndGlyphs" x="605.1" y="714.9" textLength="32.4" font-size="7" class="t">(MARQUIS)</text>
<text lengthAdjust="spacingAndGlyphs" x="0" y="0" textLength="12.7" font-size="6.8" class="t" transform="translate(591.3 754.5) rotate(-90)">BRN</text>
<circle cx="592.7" cy="763.3" r="2.4" class="k"/>
<line x1="592.7" y1="763.3" x2="622.5" y2="763.3" stroke-width="1.4"/>
<text lengthAdjust="spacingAndGlyphs" x="605.5" y="761.9" textLength="11.4" font-size="6.8" class="t">BRN</text>
<path d="M624.6 758.5 Q623 758.5 623 760.95 Q623 763.4 621.8 763.4 Q623 763.4 623 765.85 Q623 768.3 624.6 768.3" stroke-width="0.8"/>
<text lengthAdjust="spacingAndGlyphs" x="627.3" y="762.8" textLength="38.6" font-size="6.4" class="t">LCD DIMMER</text>
<text lengthAdjust="spacingAndGlyphs" x="627.3" y="769.7" textLength="18" font-size="6.4" class="t">RELAY</text>
<text lengthAdjust="spacingAndGlyphs" x="0" y="0" textLength="12.5" font-size="6.8" class="t" transform="translate(591.3 783.3) rotate(-90)">BRN</text>
<path d="M557.4 816 L557.4 818.2 Q556.5 822.2 549.3 823.3 L548.9 832.6" stroke-width="1.4"/>
<path d="M557.4 818.2 Q558.4 822.2 564.2 823.4" stroke-width="1.4"/>
<path d="M563.8 823.4 L740.2 823.6 L745.3 833.6" stroke-width="1.4"/>
<line x1="548.6" y1="832.7" x2="746" y2="832.7" stroke-width="1.4"/>
<ellipse cx="549.9" cy="829.5" rx="2.6" ry="2.2" stroke-width="0.9"/>
<path d="M547.4 829 Q542.5 830.5 540.2 834 Q536.5 833.5 534.8 838 Q529 848 527.6 855.5 L528.3 858.3" stroke-width="0.9"/>
<text lengthAdjust="spacingAndGlyphs" x="527.2" y="863.7" textLength="33.2" font-size="7" class="t">(VICTORIA)</text>
<ellipse cx="565.6" cy="824.2" rx="1.7" ry="3.5" stroke-width="0.9" transform="rotate(12 565.6 824.2)"/>
<path d="M566 820.7 Q572 811 586 811.7 Q592 812 597 814.3" stroke-width="0.9"/>
<text lengthAdjust="spacingAndGlyphs" x="597" y="815.6" textLength="32.4" font-size="7" class="t">(MARQUIS)</text>
<text lengthAdjust="spacingAndGlyphs" x="715.7" y="822.5" textLength="24.3" font-size="6.8" class="t">BLK-PNK</text>
<text lengthAdjust="spacingAndGlyphs" x="715.7" y="832" textLength="24.3" font-size="6.8" class="t">BLK-PNK</text>
<circle cx="751" cy="837.3" r="6.2" stroke-width="1.15"/>
<ellipse cx="748.6" cy="837.4" rx="4.4" ry="3.8" stroke-width="1.15"/>
<ellipse cx="749.7" cy="837.4" rx="2.5" ry="1.1" stroke-width="1.1"/>
<text lengthAdjust="spacingAndGlyphs" x="731" y="841" textLength="9.7" font-size="6.8" class="t">BLK</text>
<ellipse cx="715.1" cy="841.9" rx="0.75" ry="1.3" stroke-width="0" class="k"/>
<rect x="717" y="839.2" width="1.5" height="5.4" class="k"/>
<rect x="719.5" y="837.1" width="1.5" height="9.6" class="k"/>
<path d="M720.9 838.8 L725.3 841.1 L725.3 842.7 L720.9 845 Z" class="k"/>
<line x1="723.7" y1="841.9" x2="749.5" y2="841.9" stroke-width="1.8"/>
<text lengthAdjust="spacingAndGlyphs" x="738.3" y="851.1" textLength="26.7" font-size="7" class="t">BACK-UP</text>
<text lengthAdjust="spacingAndGlyphs" x="748.3" y="857.1" textLength="6" font-size="7" class="t">LT</text>
<circle cx="662.3" cy="832.9" r="1.9" class="k"/>
<path d="M662.3 832.9 L662.3 876 L668.2 876" stroke-width="1.5"/>
<path d="M671 871.5 Q669.4 871.5 669.4 873.75 Q669.4 876 668.2 876 Q669.4 876 669.4 878.25 Q669.4 880.5 671 880.5" stroke-width="0.8"/>
<text lengthAdjust="spacingAndGlyphs" x="675" y="872.9" textLength="26.7" font-size="6.4" class="t">NEUTRAL</text>
<text lengthAdjust="spacingAndGlyphs" x="675" y="879.2" textLength="20.7" font-size="6.4" class="t">SAFETY</text>
<text lengthAdjust="spacingAndGlyphs" x="675" y="885.8" textLength="9.3" font-size="6.4" class="t">SW</text>
<text lengthAdjust="spacingAndGlyphs" x="0" y="0" textLength="25" font-size="6.8" class="t" transform="translate(660.7 873.3) rotate(-90)">BLK-PNK</text>
<text lengthAdjust="spacingAndGlyphs" x="0" y="0" textLength="11.8" font-size="6.8" class="t" transform="translate(573.9 856.8) rotate(-90)">BRN</text>
<path d="M575.2 870 L575.2 871.6 Q574.3 875.3 568 876.3 Q566.1 876.6 566.1 878.5" stroke-width="1.4"/>
<path d="M575.2 871.6 Q576.2 875.3 581.5 876.3 Q583.5 876.6 583.5 878.5" stroke-width="1.4"/>
<line x1="566.1" y1="878.3" x2="565.3" y2="1076.5" stroke-width="1.4"/>
<path d="M583.5 878.3 L583.9 919.6 L731 919.6" stroke-width="1.4"/>
<circle cx="600.6" cy="919.8" r="2.4" class="k"/>
<ellipse cx="578.6" cy="873.9" rx="2.3" ry="1.6" stroke-width="0.9" transform="rotate(-20 578.6 873.9)"/>
<path d="M580.8 873 Q586 869.5 592 869.3 L598.3 870.3" stroke-width="0.9"/>
<text lengthAdjust="spacingAndGlyphs" x="598.1" y="872.8" textLength="33.6" font-size="7" class="t">(MARQUIS)</text>
<ellipse cx="566.2" cy="888.5" rx="3.1" ry="1.6" stroke-width="0.9" transform="rotate(-18 566.2 888.5)"/>
<path d="M569.2 887.6 Q577 880.5 590 881 L598.8 883" stroke-width="0.9"/>
<text lengthAdjust="spacingAndGlyphs" x="598.9" y="885.6" textLength="33.2" font-size="7" class="t">(VICTORIA)</text>
<text lengthAdjust="spacingAndGlyphs" x="0" y="0" textLength="11.7" font-size="6.8" class="t" transform="translate(582.3 915) rotate(-90)">BRN</text>
<path d="M600.6 919.6 L591.8 928.4 L591.2 1064" stroke-width="1.4"/>
<path d="M591.2 1063.5 Q591.3 1068.2 596.5 1068.4" stroke-width="1.4"/>
<line x1="600.5" y1="919.6" x2="600.1" y2="1028" stroke-width="1.4"/>
<path d="M600.1 1027.5 Q600.2 1033 606.8 1033.3" stroke-width="1.4"/>
<path d="M600.6 919.6 L609.2 928.4 L609.2 984.5" stroke-width="1.4"/>
<path d="M609.2 984 Q610 989.3 617.5 989.9" stroke-width="1.4"/>
<text lengthAdjust="spacingAndGlyphs" x="712.3" y="918.9" textLength="11.7" font-size="6.8" class="t">BRN</text>
<text lengthAdjust="spacingAndGlyphs" x="728.3" y="892.3" textLength="28.4" font-size="7" class="t">LEFT DIR/</text>
<text lengthAdjust="spacingAndGlyphs" x="728.3" y="898.8" textLength="24" font-size="7" class="t">STOP LT</text>
<text lengthAdjust="spacingAndGlyphs" x="686" y="901.3" textLength="37.3" font-size="6.8" class="t">LT GRN-ORG</text>
<path d="M734.8 902.1 L678.9 902.1 L678.9 964.2 L729 964.2 L732.5 973" stroke-width="1.4"/>
<text lengthAdjust="spacingAndGlyphs" x="713.3" y="910" textLength="10" font-size="6.8" class="t">BLK</text>
<ellipse cx="660.9" cy="911" rx="0.75" ry="1.3" stroke-width="0" class="k"/>
<rect x="662.8" y="908.3" width="1.5" height="5.4" class="k"/>
<rect x="665.3" y="906.2" width="1.5" height="9.6" class="k"/>
<path d="M666.7 907.9 L671.1 910.2 L671.1 911.8 L666.7 914.1 Z" class="k"/>
<line x1="669.5" y1="911" x2="744.6" y2="911" stroke-width="1.2"/>
<circle cx="740" cy="910.7" r="11.3" stroke-width="1.1"/>
<path d="M734.2 901.3 C729 905.7 729 915.7 734.2 920.1" stroke-width="1.1"/>
<ellipse cx="740.5" cy="906.5" rx="3.8" ry="2.2" stroke-width="1.25"/>
<ellipse cx="740.5" cy="914.9" rx="3.8" ry="2.2" stroke-width="1.25"/>
<text lengthAdjust="spacingAndGlyphs" x="722.7" y="930.8" textLength="32.3" font-size="7" class="t">LEFT TAILLT</text>
<text lengthAdjust="spacingAndGlyphs" x="722.7" y="937.6" textLength="33.3" font-size="7" class="t">(MARQUIS)</text>
<text lengthAdjust="spacingAndGlyphs" x="618.3" y="952.9" textLength="52.7" font-size="6.4" class="t">MULTI-FUNCTION</text>
<text lengthAdjust="spacingAndGlyphs" x="639.5" y="959.6" textLength="9.7" font-size="6.4" class="t">SW</text>
<path d="M641 964.3 Q641 963 642.4 963 L645.6 963 Q647 963 647 964.3" stroke-width="1"/>
<path d="M643.6 963.6 L643.6 972.7 L733 972.7" stroke-width="1.4"/>
<text lengthAdjust="spacingAndGlyphs" x="725.7" y="955.8" textLength="28.3" font-size="7" class="t">LEFT DIR /</text>
<text lengthAdjust="spacingAndGlyphs" x="732.3" y="962.8" textLength="16" font-size="7" class="t">STOP</text>
<text lengthAdjust="spacingAndGlyphs" x="738.3" y="968.9" textLength="6" font-size="7" class="t">LT</text>
<text lengthAdjust="spacingAndGlyphs" x="688.3" y="963" textLength="36.7" font-size="6.8" class="t">LT GRN-ORG</text>
<text lengthAdjust="spacingAndGlyphs" x="688.3" y="971.4" textLength="36.7" font-size="6.8" class="t">LT GRN-ORG</text>
<text lengthAdjust="spacingAndGlyphs" x="716" y="979.4" textLength="10" font-size="6.8" class="t">BLK</text>
<ellipse cx="660.9" cy="980.5" rx="0.75" ry="1.3" stroke-width="0" class="k"/>
<rect x="662.8" y="977.8" width="1.5" height="5.4" class="k"/>
<rect x="665.3" y="975.7" width="1.5" height="9.6" class="k"/>
<path d="M666.7 977.4 L671.1 979.7 L671.1 981.3 L666.7 983.6 Z" class="k"/>
<line x1="669.5" y1="980.5" x2="744.6" y2="980.5" stroke-width="1.5"/>
<text lengthAdjust="spacingAndGlyphs" x="714" y="988.4" textLength="12" font-size="6.8" class="t">BRN</text>
<line x1="617" y1="989.8" x2="733" y2="989.8" stroke-width="1.4"/>
<circle cx="740" cy="980.5" r="11.3" stroke-width="1.1"/>
<path d="M734.2 971.1 C729 975.5 729 985.5 734.2 989.9" stroke-width="1.1"/>
<ellipse cx="740.5" cy="976.3" rx="3.8" ry="2.2" stroke-width="1.25"/>
<ellipse cx="740.5" cy="984.7" rx="3.8" ry="2.2" stroke-width="1.25"/>
<text lengthAdjust="spacingAndGlyphs" x="733.7" y="998.1" textLength="12.6" font-size="7" class="t">LEFT</text>
<text lengthAdjust="spacingAndGlyphs" x="730.3" y="1004.8" textLength="19" font-size="7" class="t">TAILLT</text>
<text lengthAdjust="spacingAndGlyphs" x="498.3" y="933.9" textLength="11.7" font-size="6.4" class="t">LCD</text>
<text lengthAdjust="spacingAndGlyphs" x="491" y="941.1" textLength="26.3" font-size="6.4" class="t">DIMMER</text>
<text lengthAdjust="spacingAndGlyphs" x="494.3" y="948.6" textLength="19" font-size="6.4" class="t">RELAY</text>
<path d="M502 950.5 L504.3 952.3 L506.2 950" stroke-width="0.9"/>
<path d="M504.3 952 L504.3 979 L522.2 979" stroke-width="1.4"/>
<circle cx="522.2" cy="979" r="2.4" class="k"/>
<text lengthAdjust="spacingAndGlyphs" x="0" y="0" textLength="12.3" font-size="6.8" class="t" transform="translate(503.4 967) rotate(-90)">BRN</text>
<circle cx="565.5" cy="997.6" r="2.4" class="k"/>
<text lengthAdjust="spacingAndGlyphs" x="535.3" y="996.6" textLength="11.7" font-size="6.8" class="t">BRN</text>
<text lengthAdjust="spacingAndGlyphs" x="571.6" y="996.6" textLength="11.7" font-size="6.8" class="t">BRN</text>
<text lengthAdjust="spacingAndGlyphs" x="0" y="0" textLength="12.4" font-size="6.8" class="t" transform="translate(563.6 1017.3) rotate(-90)">BRN</text>
<circle cx="565.4" cy="1041.6" r="2.4" class="k"/>
<line x1="565.4" y1="1041.6" x2="599.3" y2="1041.6" stroke-width="1.5"/>
<path d="M599 1041.6 Q602.3 1041.2 603.2 1037.5 Q604 1033.7 607.5 1033.3" stroke-width="1.5"/>
<text lengthAdjust="spacingAndGlyphs" x="571.6" y="1040.3" textLength="11.7" font-size="6.8" class="t">BRN</text>
<line x1="606.5" y1="1033.3" x2="746" y2="1033.3" stroke-width="1.4"/>
<line x1="596" y1="1068.4" x2="747" y2="1068.4" stroke-width="1.4"/>
<path d="M565.3 1076.5 L590.6 1076.5 L595.3 1068.6" stroke-width="1.4"/>
<text lengthAdjust="spacingAndGlyphs" x="572.5" y="1075.5" textLength="11.8" font-size="6.8" class="t">BRN</text>
<ellipse cx="588.6" cy="997.6" rx="1.8" ry="3.2" stroke-width="0.9" transform="rotate(15 588.6 997.6)"/>
<ellipse cx="587.6" cy="1040.9" rx="1.8" ry="3.2" stroke-width="0.9" transform="rotate(15 587.6 1040.9)"/>
<ellipse cx="565.1" cy="1057.5" rx="3.3" ry="1.8" stroke-width="0.9"/>
<ellipse cx="608.8" cy="979.8" rx="2.7" ry="1.7" stroke-width="0.9"/>
<ellipse cx="599" cy="1018" rx="2.7" ry="1.6" stroke-width="0.9"/>
<ellipse cx="592.3" cy="1063.6" rx="1.7" ry="2.7" stroke-width="0.9" transform="rotate(30 592.3 1063.6)"/>
<text lengthAdjust="spacingAndGlyphs" x="506.3" y="1044.5" textLength="32.9" font-size="7" class="t">(VICTORIA)</text>
<text lengthAdjust="spacingAndGlyphs" x="629.8" y="1025.4" textLength="32.9" font-size="7" class="t">(MARQUIS)</text>
<path d="M540.2 1041.6 Q565 1021 584 1006 Q588 1003 588.5 1000.5" stroke-width="0.9"/>
<path d="M540.2 1041.6 Q552 1046 567 1049 Q582 1051 586.8 1044" stroke-width="0.9"/>
<path d="M540.2 1041.6 Q547 1044 550 1050 Q553 1057.5 562 1057.5" stroke-width="0.9"/>
<path d="M629.4 1022.9 Q622 1017 621 1000 Q620.5 984 616 980.5 Q613.5 979 611.5 979.5" stroke-width="0.9"/>
<path d="M629.4 1022.9 Q617 1022.5 609 1019.5 Q604.5 1018 601.7 1018" stroke-width="0.9"/>
<path d="M629.4 1022.9 Q621 1027 616 1046 Q611 1060 594 1063" stroke-width="0.9"/>
<text lengthAdjust="spacingAndGlyphs" x="729.3" y="1032" textLength="12" font-size="6.8" class="t">BRN</text>
<circle cx="750.3" cy="1038" r="6.2" stroke-width="1.15"/>
<ellipse cx="747.9" cy="1038.1" rx="4.4" ry="3.8" stroke-width="1.15"/>
<ellipse cx="749" cy="1038.1" rx="2.5" ry="1.1" stroke-width="1.1"/>
<text lengthAdjust="spacingAndGlyphs" x="731" y="1040.4" textLength="9.3" font-size="6.8" class="t">BLK</text>
<ellipse cx="678.4" cy="1042" rx="0.75" ry="1.3" stroke-width="0" class="k"/>
<rect x="680.3" y="1039.3" width="1.5" height="5.4" class="k"/>
<rect x="682.8" y="1037.2" width="1.5" height="9.6" class="k"/>
<path d="M684.2 1038.9 L688.6 1041.2 L688.6 1042.8 L684.2 1045.1 Z" class="k"/>
<line x1="687" y1="1042" x2="746" y2="1042" stroke-width="1.8"/>
<text lengthAdjust="spacingAndGlyphs" x="709.7" y="1051.8" textLength="48.3" font-size="7" class="t">LEFT MARKER LT</text>
<text lengthAdjust="spacingAndGlyphs" x="729.3" y="1067.3" textLength="12" font-size="6.8" class="t">BRN</text>
<circle cx="751.3" cy="1072" r="6.2" stroke-width="1.15"/>
<ellipse cx="748.9" cy="1072.1" rx="4.4" ry="3.8" stroke-width="1.15"/>
<ellipse cx="750" cy="1072.1" rx="2.5" ry="1.1" stroke-width="1.1"/>
<text lengthAdjust="spacingAndGlyphs" x="731" y="1075.8" textLength="9.3" font-size="6.8" class="t">BLK</text>
<ellipse cx="678.9" cy="1077.7" rx="0.75" ry="1.3" stroke-width="0" class="k"/>
<rect x="680.8" y="1075" width="1.5" height="5.4" class="k"/>
<rect x="683.3" y="1072.9" width="1.5" height="9.6" class="k"/>
<path d="M684.7 1074.6 L689.1 1076.9 L689.1 1078.5 L684.7 1080.8 Z" class="k"/>
<line x1="687.5" y1="1077.7" x2="747" y2="1077.7" stroke-width="1.8"/>
<text lengthAdjust="spacingAndGlyphs" x="708.7" y="1085.9" textLength="49.3" font-size="7" class="t">LEFT MARKER LT</text>
</svg>
</body></html>
